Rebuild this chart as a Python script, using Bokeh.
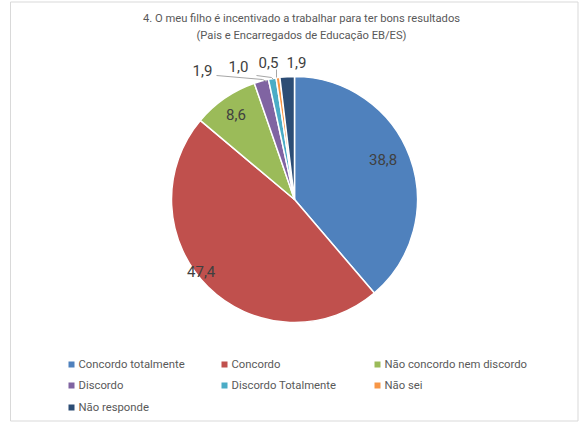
import math
from bokeh.plotting import figure
from bokeh.models import Range1d, ColumnDataSource
from bokeh.core.properties import value
from bokeh.embed import file_html
from bokeh.resources import INLINE

categories = ["Concordo totalmente", "Concordo", "Não concordo nem discordo",
              "Discordo", "Discordo Totalmente", "Não sei", "Não responde"]
values = [38.8, 47.4, 8.6, 1.9, 1.0, 0.5, 1.9]
labels = ["38,8", "47,4", "8,6", "1,9", "1,0", "0,5", "1,9"]
colors = ["#4F81BD", "#C0504D", "#9BBB59", "#8064A2", "#4BACC6", "#F79646", "#2C4D75"]
title_lines = ["4. O meu filho é incentivado a trabalhar para ter bons resultados",
               "(Pais e Encarregados de Educação EB/ES)"]

FONT = "Roboto"
W, H = 579, 423
def Y(y):
    return H - y

p = figure(width=W, height=H, output_backend="svg", toolbar_location=None,
           x_range=Range1d(0, W), y_range=Range1d(0, H),
           min_border=0, outline_line_color=None)
p.axis.visible = False
p.grid.visible = False
p.background_fill_color = "white"

# chart border
p.rect(x=[(10 + 577.5) / 2], y=[Y((1.5 + 420.5) / 2)], width=567.5, height=419,
       fill_color=None, line_color="#D9D9D9", line_width=1)

cx, cy, r = 294, Y(199), 123
total = sum(values)
starts, ends = [], []
c = 0.0
for v in values:
    a0 = math.pi / 2 - 2 * math.pi * c / total
    c += v
    a1 = math.pi / 2 - 2 * math.pi * c / total
    starts.append(a1)
    ends.append(a0)

src = ColumnDataSource(dict(start=starts, end=ends, color=colors))
p.wedge(x=cx, y=cy, radius=r, start_angle="start", end_angle="end",
        fill_color="color", line_color="white", line_width=1.5, source=src)

# inside labels
inside = {0: (0.79, 0.07), 1: (0.96, -0.13), 2: (0.84, 0.0)}
lx, ly, lt = [], [], []
cum = 0.0
for i, v in enumerate(values):
    mid = math.pi / 2 - 2 * math.pi * (cum + v / 2) / total
    cum += v
    if i in inside:
        f, da = inside[i]
        lx.append(cx + f * r * math.cos(mid + da))
        ly.append(cy + f * r * math.sin(mid + da))
        lt.append(labels[i])
p.text(x=lx, y=ly, text=lt, text_font=value(FONT), text_font_size="15px",
       text_color="#404040", text_align="center", text_baseline="middle")

# outside labels
out_x = [202, 238, 268, 296]
out_y = [Y(70), Y(66), Y(62), Y(62)]
p.text(x=out_x, y=out_y, text=labels[3:], text_font=value(FONT), text_font_size="15px",
       text_color="#404040", text_align="center", text_baseline="middle")
# leader lines
p.line(x=[216, 262, 266], y=[Y(75), Y(79), Y(81)], line_color="#A6A6A6", line_width=1)
p.line(x=[256, 271, 273], y=[Y(75), Y(77), Y(79)], line_color="#A6A6A6", line_width=1)
p.line(x=[276, 276], y=[Y(69), Y(77)], line_color="#A6A6A6", line_width=1)

# title
p.text(x=[301, 301], y=[Y(18), Y(35)], text=title_lines, text_font=value(FONT),
       text_font_size="11.2px", text_color="#595959", text_align="center",
       text_baseline="middle")

# legend
col_x = [71, 224, 377]
row_y = [364, 385, 407]
mx = [col_x[i % 3] for i in range(len(categories))]
my = [Y(row_y[i // 3]) for i in range(len(categories))]
p.rect(x=mx, y=my, width=6, height=6, fill_color=colors, line_color=None)
p.text(x=[m + 7 for m in mx], y=my, text=categories, text_font=value(FONT),
       text_font_size="11.3px", text_color="#595959", text_align="left",
       text_baseline="middle")

open("out.html", "w").write(file_html(p, INLINE))
